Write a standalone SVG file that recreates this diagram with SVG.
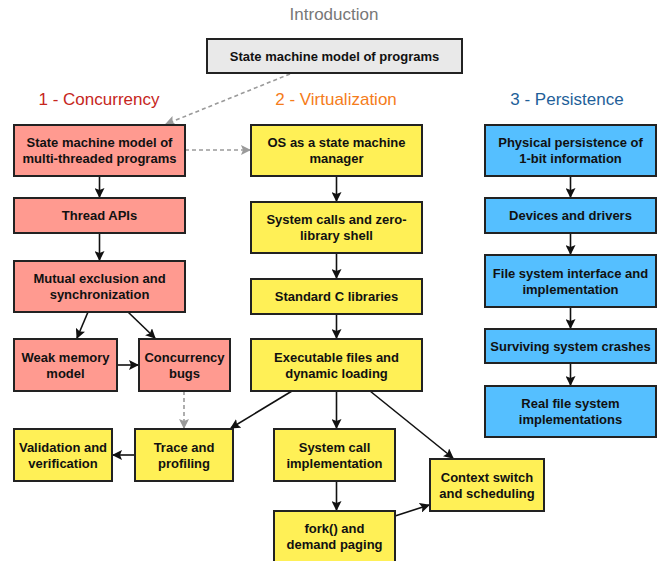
<svg xmlns="http://www.w3.org/2000/svg" width="658" height="561" viewBox="0 0 658 561">
<defs>
<marker id="ah" viewBox="0 0 10 10" refX="9" refY="5" markerWidth="10" markerHeight="10" markerUnits="userSpaceOnUse" orient="auto">
<path d="M0,0 L10,5 L0,10 L2,5 z" fill="#111"/>
</marker>
<marker id="ahg" viewBox="0 0 10 10" refX="9" refY="5" markerWidth="10" markerHeight="10" markerUnits="userSpaceOnUse" orient="auto">
<path d="M0,0 L10,5 L0,10 L2,5 z" fill="#9a9a9a"/>
</marker>
<style>
rect{stroke:#222;stroke-width:2}
.r{fill:#ff9a90}
.y{fill:#fff056}
.b{fill:#55bfff}
.g{fill:#e9e9e9}
text{font-family:"Liberation Sans",Arial,sans-serif;}
.t{font-size:13px;font-weight:bold;fill:#111;text-anchor:middle}
.h{font-size:17px;text-anchor:middle}
.c line,.c path{stroke:#111;stroke-width:1.6;fill:none;marker-end:url(#ah)}
.c .d{stroke:#9a9a9a;stroke-dasharray:4 3;marker-end:url(#ahg)}
</style>
</defs>
<text class="h" x="334" y="20" fill="#777">Introduction</text>
<text class="h" x="99" y="105" fill="#c6261c">1 - Concurrency</text>
<text class="h" x="336" y="105" fill="#f57c1a">2 - Virtualization</text>
<text class="h" x="567" y="105" fill="#1f5f99">3 - Persistence</text>

<g class="c">
<line class="d" x1="290" y1="74" x2="166" y2="124"/>
<line class="d" x1="185" y1="150" x2="250" y2="150"/>
<line x1="99.5" y1="176" x2="99.5" y2="197"/>
<line x1="99.5" y1="233" x2="99.5" y2="260"/>
<line x1="88" y1="312" x2="77" y2="338"/>
<line x1="128" y1="312" x2="155" y2="338"/>
<line x1="117" y1="365" x2="138" y2="365"/>
<line class="d" x1="184" y1="391" x2="184" y2="428"/>
<line x1="336.5" y1="176" x2="336.5" y2="201"/>
<line x1="336.5" y1="253" x2="336.5" y2="278"/>
<line x1="336.5" y1="314" x2="336.5" y2="338"/>
<line x1="292" y1="391" x2="231" y2="428"/>
<line x1="336.5" y1="391" x2="336.5" y2="428"/>
<line x1="370" y1="391" x2="453" y2="458"/>
<line x1="135" y1="455" x2="113" y2="455"/>
<line x1="336.5" y1="481" x2="336.5" y2="510"/>
<line x1="395" y1="516" x2="429" y2="505"/>
<line x1="570.5" y1="176" x2="570.5" y2="197"/>
<line x1="570.5" y1="233" x2="570.5" y2="254"/>
<line x1="570.5" y1="307" x2="570.5" y2="328"/>
<line x1="570.5" y1="363" x2="570.5" y2="385"/>
</g>

<g id="intro"><rect class="g" x="207" y="39" width="255" height="34"/><text class="t" x="334.5" y="61">State machine model of programs</text></g>

<g id="c1"><rect class="r" x="14" y="125" width="171" height="51"/><text class="t" x="99.5" y="147">State machine model of</text><text class="t" x="99.5" y="163">multi-threaded programs</text></g>
<g id="c2"><rect class="r" x="14" y="198" width="171" height="35"/><text class="t" x="99.5" y="220">Thread APIs</text></g>
<g id="c3"><rect class="r" x="14" y="261" width="171" height="51"/><text class="t" x="99.5" y="283">Mutual exclusion and</text><text class="t" x="99.5" y="299">synchronization</text></g>
<g id="c4"><rect class="r" x="14" y="339" width="103" height="52"/><text class="t" x="65.5" y="362">Weak memory</text><text class="t" x="65.5" y="378">model</text></g>
<g id="c5"><rect class="r" x="139" y="339" width="91" height="52"/><text class="t" x="184.5" y="362">Concurrency</text><text class="t" x="184.5" y="378">bugs</text></g>

<g id="v1"><rect class="y" x="251" y="125" width="171" height="51"/><text class="t" x="336.5" y="147">OS as a state machine</text><text class="t" x="336.5" y="163">manager</text></g>
<g id="v2"><rect class="y" x="251" y="202" width="171" height="51"/><text class="t" x="336.5" y="224">System calls and zero-</text><text class="t" x="336.5" y="240">library shell</text></g>
<g id="v3"><rect class="y" x="251" y="279" width="171" height="35"/><text class="t" x="336.5" y="301">Standard C libraries</text></g>
<g id="v4"><rect class="y" x="251" y="339" width="171" height="52"/><text class="t" x="336.5" y="362">Executable files and</text><text class="t" x="336.5" y="378">dynamic loading</text></g>
<g id="v5"><rect class="y" x="135" y="429" width="98" height="52"/><text class="t" x="184" y="452">Trace and</text><text class="t" x="184" y="468">profiling</text></g>
<g id="v6"><rect class="y" x="14" y="429" width="98" height="52"/><text class="t" x="63" y="452">Validation and</text><text class="t" x="63" y="468">verification</text></g>
<g id="v7"><rect class="y" x="274" y="429" width="121" height="52"/><text class="t" x="334.5" y="452">System call</text><text class="t" x="334.5" y="468">implementation</text></g>
<g id="v8"><rect class="y" x="274" y="511" width="121" height="56"/><text class="t" x="334.5" y="533">fork() and</text><text class="t" x="334.5" y="549">demand paging</text></g>
<g id="v9"><rect class="y" x="430" y="459" width="114" height="52"/><text class="t" x="487" y="482">Context switch</text><text class="t" x="487" y="498">and scheduling</text></g>

<g id="p1"><rect class="b" x="485" y="125" width="171" height="51"/><text class="t" x="570.5" y="147">Physical persistence of</text><text class="t" x="570.5" y="163">1-bit information</text></g>
<g id="p2"><rect class="b" x="485" y="198" width="171" height="35"/><text class="t" x="570.5" y="220">Devices and drivers</text></g>
<g id="p3"><rect class="b" x="485" y="255" width="171" height="52"/><text class="t" x="570.5" y="278">File system interface and</text><text class="t" x="570.5" y="294">implementation</text></g>
<g id="p4"><rect class="b" x="485" y="329" width="171" height="34"/><text class="t" x="570.5" y="351">Surviving system crashes</text></g>
<g id="p5"><rect class="b" x="485" y="386" width="171" height="51"/><text class="t" x="570.5" y="408">Real file system</text><text class="t" x="570.5" y="424">implementations</text></g>
</svg>
